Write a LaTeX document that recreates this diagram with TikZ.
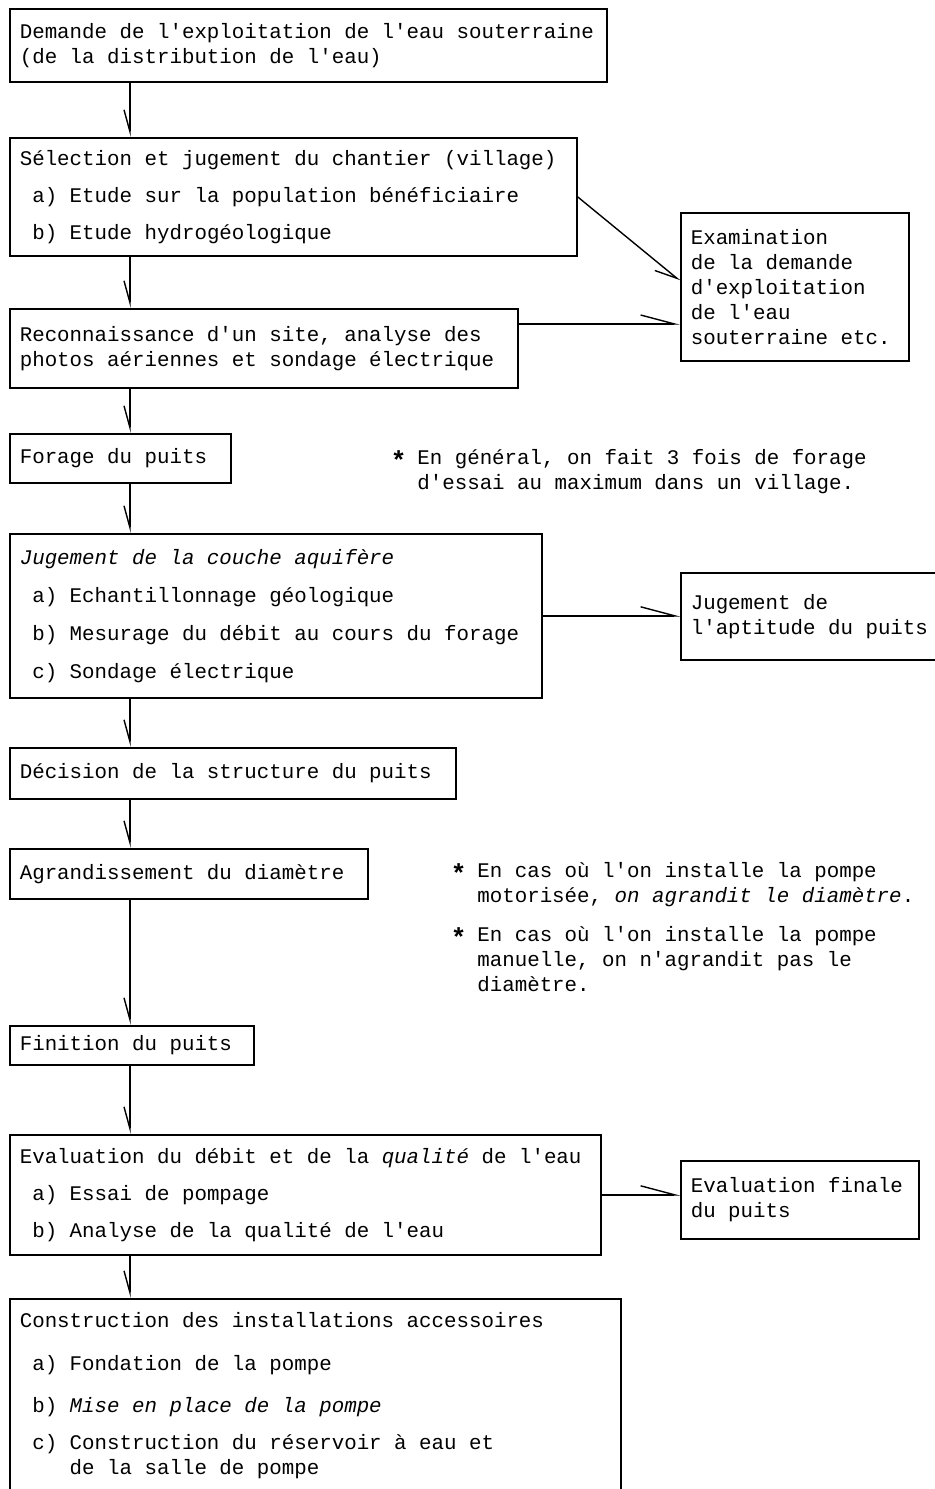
\documentclass[tikz,border=0pt]{standalone}
\usepackage{fontspec}
\setmonofont{Liberation Mono}
\usetikzlibrary{arrows.meta}
\newcommand\indt{\hphantom{x}}
\newcommand\itx[1]{\textit{#1}}
\newcommand\astk{\makebox[0.6em]{\raisebox{-0.45ex}{\bfseries\fontsize{13pt}{13pt}\selectfont *}}}
\newcommand\typefont{\ttfamily\fontsize{10.4pt}{12.5pt}\selectfont}
\begin{document}
\begin{tikzpicture}[x=0.5pt, y=-0.5pt,
    box/.style={draw, line width=0.8pt, anchor=north west, align=left,
        inner xsep=5pt, inner ysep=0pt, font=\typefont,
        execute at begin node={\spaceskip=0.6em\relax\xspaceskip=0.6em\relax}},
    note/.style={anchor=north west, align=left, inner sep=0pt, font=\typefont},
    down/.style={line width=0.7pt, -{Straight Barb[harpoon, swap, length=11pt, width=6pt]}},
    side/.style={line width=0.7pt, -{Straight Barb[harpoon, length=17pt, width=9pt]}},
    slant/.style={line width=0.7pt, -{Straight Barb[harpoon, swap, length=11pt, width=8pt]}}]
    \useasboundingbox (0,0) rectangle (935,1489);
    \coordinate (spine) at (130,0);
    % main steps
    \node[box, text width=288.5pt, minimum height=36.5pt] (dem) at (9,8)
        {Demande de l'exploitation de l'eau souterraine\\(de la distribution de l'eau)};
    \node[box, text width=273.5pt, minimum height=59pt] (sel) at (9,137)
        {S\'election et jugement du chantier (village)\\[6pt]
        \indt a) Etude sur la population b\'en\'eficiaire\\[6pt]
        \indt b) Etude hydrog\'eologique};
    \node[box, text width=244pt, minimum height=39.5pt] (rec) at (9,308)
        {Reconnaissance d'un site, analyse des\\photos a\'eriennes et sondage \'electrique};
    \node[box, text width=100.5pt, minimum height=24.5pt] (for) at (9,433)
        {Forage du puits};
    \node[box, text width=256pt, minimum height=82pt] (aqu) at (9,533)
        {\itx{Jugement de la couche aquif\`ere}\\[6.5pt]
        \indt a) Echantillonnage g\'eologique\\[6.5pt]
        \indt b) Mesurage du d\'ebit au cours du forage\\[6.5pt]
        \indt c) Sondage \'electrique};
    \node[box, text width=213pt, minimum height=25.5pt] (dec) at (9,747)
        {D\'ecision de la structure du puits};
    \node[box, text width=169pt, minimum height=25pt] (agr) at (9,848)
        {Agrandissement du diam\`etre};
    \node[box, text width=112pt, minimum height=19.5pt] (fin) at (9,1025)
        {Finition du puits};
    \node[box, text width=285.5pt, minimum height=60pt] (eva) at (9,1134)
        {Evaluation du d\'ebit et de la \itx{qualit\'e} de l'eau\\[6pt]
        \indt a) Essai de pompage\\[6pt]
        \indt b) Analyse de la qualit\'e de l'eau};
    \node[box, text width=295.5pt, minimum height=97pt] (con) at (9,1298)
        {Construction des installations accessoires\\[9pt]
        \indt a) Fondation de la pompe\\[8.5pt]
        \indt b) \itx{Mise en place de la pompe}\\[6pt]
        \indt c) Construction du r\'eservoir \`a eau et\\
        \indt\hphantom{xxx}de la salle de pompe};
    % side checks
    \node[box, text width=104pt, minimum height=74pt] (exa) at (680,212)
        {Examination\\de la demande\\d'exploitation\\de l'eau\\souterraine etc.};
    \node[box, text width=122.5pt, minimum height=43.5pt] (apt) at (680,572)
        {Jugement de\\l'aptitude du puits};
    \node[box, text width=109pt, minimum height=39pt] (fpu) at (680,1160)
        {Evaluation finale\\du puits};
    % remarks
    \node[note] (nfo) at (392,449)
        {\astk{} En g\'en\'eral, on fait 3 fois de forage\\
        \hphantom{*} d'essai au maximum dans un village.};
    \node[note] (nmo) at (452,862)
        {\astk{} En cas o\`u l'on installe la pompe\\
        \hphantom{*} motoris\'ee, \itx{on agrandit le diam\`etre}.};
    \node[note] (nma) at (452,926)
        {\astk{} En cas o\`u l'on installe la pompe\\
        \hphantom{*} manuelle, on n'agrandit pas le\\
        \hphantom{*} diam\`etre.};
    % connectors
    \foreach \a/\b in {dem/sel, sel/rec, rec/for, for/aqu, aqu/dec,
        dec/agr, agr/fin, fin/eva, eva/con}
        \draw[down] (\a.south -| spine) -- (\b.north -| spine);
    \draw[slant] (sel.east) -- ([yshift=3pt]exa.west);
    \path ([yshift=-8pt]rec.north east) coordinate (recout);
    \draw[side] (recout) -- (recout -| exa.west);
    \draw[side] (aqu.east) -- (aqu.east -| apt.west);
    \draw[side] (eva.east) -- (eva.east -| fpu.west);
\end{tikzpicture}
\end{document}
